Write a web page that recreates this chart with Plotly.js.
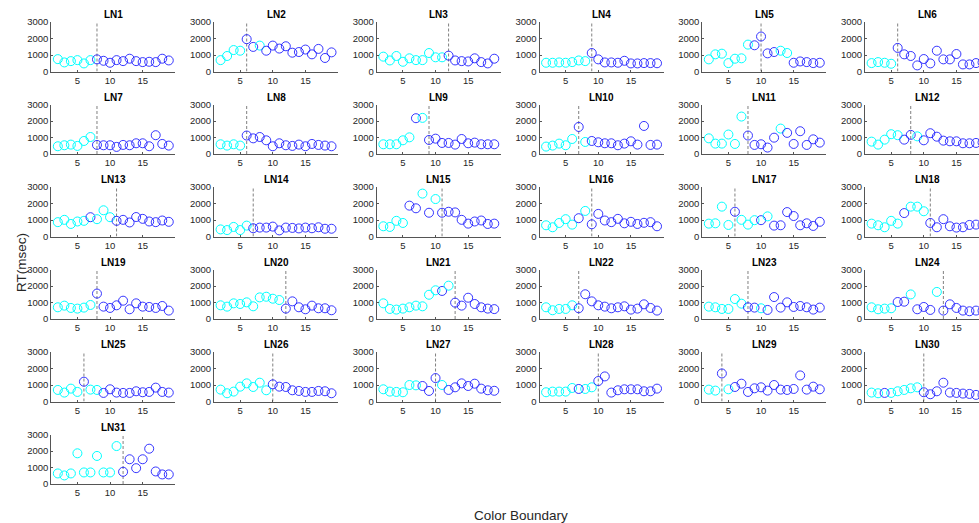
<!DOCTYPE html>
<html><head><meta charset="utf-8">
<script src="https://cdn.plot.ly/plotly-3.0.1.min.js"></script>
<style>html,body{margin:0;padding:0;overflow:hidden;background:#fff;}</style>
</head><body><div id="chart"></div>
<script>
// ---- data ----
const xPos = [2,3,4,5,6,7,8,9,10,11,12,13,14,15,16,17,18,19];
const panelNames = ["LN1","LN2","LN3","LN4","LN5","LN6","LN7","LN8","LN9","LN10","LN11","LN12","LN13","LN14","LN15","LN16","LN17","LN18","LN19","LN20","LN21","LN22","LN23","LN24","LN25","LN26","LN27","LN28","LN29","LN30","LN31"];
const boundaries = [8,6,12,9,10,6,8,6,9,7,8,8,11,7,11,9,6,11,8,12,13,7,8,13,6,10,10,10,4,10,12];
const xTicks = [5,10,15];
const yTicks = [0,1000,2000,3000];

const LN1 = [750,550,630,690,490,690,735,650,530,690,630,775,630,570,590,570,775,670];
const LN2 = [690,940,1300,1260,1960,1490,1570,1260,1570,1390,1530,1140,1180,1330,1040,1370,820,1160];
const LN3 = [900,670,940,590,800,690,690,1120,860,860,960,670,630,610,800,570,490,775];
const LN4 = [530,530,550,530,570,670,630,1120,735,550,550,530,650,490,490,510,510,500];
const LN5 = [735,1040,1080,510,775,800,1630,1590,2120,1100,1180,1260,1120,530,610,570,510,530];
const LN6 = [510,570,530,470,1430,1040,940,370,755,490,1260,735,735,1060,430,430,510,550];
const LN7 = [470,530,570,490,790,1030,550,530,530,430,550,530,650,650,470,1140,610,510];
const LN8 = [590,510,590,510,1120,950,1030,830,470,650,530,490,570,470,610,550,510,470];
const LN9 = [590,590,590,830,1010,2170,2190,850,930,670,670,570,910,650,690,590,590,590];
const LN10 = [450,510,630,530,910,1640,730,790,710,650,650,530,630,770,570,1700,550,570];
const LN11 = [950,630,630,1180,610,2270,1120,550,590,390,990,1540,1280,610,1380,550,890,690];
const LN12 = [750,570,870,1200,1140,870,1160,1070,830,1260,1050,810,770,770,650,650,670,700];
const LN13 = [870,1010,760,910,950,1170,1050,1590,1170,950,1010,850,1180,1070,910,870,970,890];
const LN14 = [430,390,580,390,660,500,540,540,600,370,540,520,490,540,500,560,470,470];
const LN15 = [620,580,950,820,1870,1710,2600,1440,2270,1440,1500,1460,1010,780,910,970,760,780];
const LN16 = [680,560,820,1050,720,1110,1550,740,1370,970,870,1070,800,890,760,830,870,620];
const LN17 = [780,800,1810,700,1500,1010,720,990,990,1220,660,680,1480,1240,680,800,640,890];
const LN18 = [780,680,560,950,780,1420,1810,1810,1530,820,560,1050,620,540,560,700,720,700];
const LN19 = [710,810,670,630,690,850,1540,750,670,830,1110,590,950,750,730,670,790,510];
const LN20 = [830,750,950,910,1010,770,1310,1350,1230,1150,630,1070,710,590,810,650,650,530];
const LN21 = [950,610,570,630,710,810,770,1470,1740,1700,2020,990,810,1290,910,710,630,600];
const LN22 = [710,530,610,610,830,650,1500,1070,830,750,650,710,770,570,630,890,670,510];
const LN23 = [750,710,610,610,1210,930,710,690,650,550,1330,690,1010,730,790,710,570,690];
const LN24 = [710,590,630,650,1030,1050,1490,590,730,550,1640,510,890,670,510,470,510,500];
const LN25 = [700,540,780,580,1200,720,700,520,740,540,520,520,620,560,580,840,580,540];
const LN26 = [720,500,600,900,1100,880,1140,680,1040,900,880,680,640,580,580,640,620,500];
const LN27 = [740,600,580,560,1000,980,940,640,1420,1000,700,860,1100,940,1080,780,680,650];
const LN28 = [560,600,600,600,820,760,760,860,1240,1520,540,680,740,740,740,620,620,780];
const LN29 = [720,660,1700,740,880,1080,580,800,860,660,1000,720,700,760,1580,720,900,740];
const LN30 = [540,500,520,520,620,700,800,860,560,440,620,1140,540,520,480,460,400,400];
const LN31 = [640,520,640,1860,700,700,1700,700,700,2300,740,1500,960,1500,2140,760,580,580];

// point colour groups: c = cyan, b = blue
const LN1c = "ccccccbbbbbbbbbbbb";
const LN2c = "ccccbbcbbbbbbbbbbb";
const LN3c = "ccccccccccbbbbbbbb";
const LN4c = "cccccccbbbbbbbbbbb";
const LN5c = "cccccccbbbbccbbbbb";
const LN6c = "ccccbbbbbbbbbbbbbb";
const LN7c = "ccccccbbbbbbbbbbbb";
const LN8c = "ccccbbbbbbbbbbbbbb";
const LN9c = "cccccbcbbbbbbbbbbb";
const LN10c = "cccccbcbbbbbbbbbbb";
const LN11c = "ccccccbbbbbcbbbbbb";
const LN12c = "cccccbbcbbbbbbbbbb";
const LN13c = "cccccbcccbbbbbbbbb";
const LN14c = "cccccbbbbbbbbbbbbb";
const LN15c = "ccccbbcbcbbbbbbbbb";
const LN16c = "cccccbcbbbbbbbbbbb";
const LN17c = "ccccbcccbcbbbbbbbb";
const LN18c = "cccccbcccbbbbbbbbb";
const LN19c = "ccccccbbbbbbbbbbbb";
const LN20c = "ccccccccccbbbbbbbb";
const LN21c = "cccccccccbcbbbbbbb";
const LN22c = "cccccbbbbbbbbbbbbb";
const LN23c = "ccccccbbcbbbbbbbbb";
const LN24c = "ccccbbcbbbcbbbbbbb";
const LN25c = "ccccbccbbbbbbbbbbb";
const LN26c = "ccccccccbbbbbbbbbb";
const LN27c = "ccccccbbbcbbbbbbbb";
const LN28c = "cccccbccbbbbbbbbbb";
const LN29c = "ccbcbbbbbbbbbbbbbb";
const LN30c = "ccbcccccbbbbbbbbbb";
const LN31c = "ccccccccccbbbbbbbb";

const series = [LN1,LN2,LN3,LN4,LN5,LN6,LN7,LN8,LN9,LN10,LN11,LN12,LN13,LN14,LN15,LN16,LN17,LN18,LN19,LN20,LN21,LN22,LN23,LN24,LN25,LN26,LN27,LN28,LN29,LN30,LN31];
const colorCodes = [LN1c,LN2c,LN3c,LN4c,LN5c,LN6c,LN7c,LN8c,LN9c,LN10c,LN11c,LN12c,LN13c,LN14c,LN15c,LN16c,LN17c,LN18c,LN19c,LN20c,LN21c,LN22c,LN23c,LN24c,LN25c,LN26c,LN27c,LN28c,LN29c,LN30c,LN31c];

// ---- layout geometry (pixels) ----
const W = 1040, H = 523;
const colLeft0 = 51.3, colStep = 162.75, axW = 124;
const rowBottom0 = 71.5, rowStep = 82.5, axH = 49.5;
const CYAN = '#00ffff', BLUE = 'rgba(20,20,255,0.85)';
const axisColor = '#555555', textColor = '#262626';
const FONT = 'Liberation Sans, Arial, Helvetica, sans-serif';

const traces = [];
const layout = {
  width: W, height: H,
  margin: {l:0, r:0, t:0, b:0},
  paper_bgcolor: '#fff', plot_bgcolor: 'rgba(0,0,0,0)',
  showlegend: false,
  font: {family: FONT, size: 9, color: textColor},
  annotations: []
};

series.forEach((vals, i) => {
  const col = i % 6, row = Math.floor(i / 6);
  const left = colLeft0 + col * colStep;
  const bottom = rowBottom0 + row * rowStep;
  const top = bottom - axH;
  const n = i + 1;
  const xa = n === 1 ? 'x' : 'x' + n;
  const ya = n === 1 ? 'y' : 'y' + n;
  const xKey = n === 1 ? 'xaxis' : 'xaxis' + n;
  const yKey = n === 1 ? 'yaxis' : 'yaxis' + n;
  const b = boundaries[i];

  traces.push({
    type: 'scatter', mode: 'lines', x: [b, b], y: [0, 3000],
    xaxis: xa, yaxis: ya, hoverinfo: 'skip',
    line: {color: '#808080', width: 1, dash: '3px,2px'}
  });
  const cols = colorCodes[i].split('').map(c => c === 'c' ? CYAN : BLUE);
  traces.push({
    type: 'scatter', mode: 'markers', x: xPos, y: vals,
    xaxis: xa, yaxis: ya, cliponaxis: false,
    marker: {symbol: 'circle-open', size: 9, color: cols, line: {width: 1}}
  });

  layout[xKey] = {
    domain: [left / W, (left + axW) / W], anchor: ya,
    range: [1, 20], tickvals: xTicks, ticktext: xTicks.map(String),
    showline: true, linecolor: axisColor, linewidth: 1,
    ticks: 'inside', ticklen: 2, tickcolor: axisColor,
    showgrid: false, zeroline: false, fixedrange: true,
    tickfont: {family: FONT, size: 9.5, color: textColor}
  };
  layout[yKey] = {
    domain: [1 - bottom / H, 1 - top / H], anchor: xa,
    range: [0, 3000], tickvals: yTicks, ticktext: yTicks.map(String),
    showline: true, linecolor: axisColor, linewidth: 1,
    ticks: 'inside', ticklen: 2, tickcolor: axisColor,
    showgrid: false, zeroline: false, fixedrange: true,
    tickfont: {family: FONT, size: 9.5, color: textColor}
  };
  layout.annotations.push({
    text: '<b>' + panelNames[i] + '</b>', xref: 'paper', yref: 'paper',
    x: (left + axW / 2) / W, y: 1 - (top - 7.5) / H,
    xanchor: 'center', yanchor: 'middle', showarrow: false,
    font: {family: FONT, size: 10, color: '#000'}
  });
});

layout.annotations.push({
  text: 'RT(msec)', xref: 'paper', yref: 'paper',
  x: 21 / W, y: 1 - 263 / H, textangle: -90,
  xanchor: 'center', yanchor: 'middle', showarrow: false,
  font: {family: FONT, size: 13.5, color: textColor}
});
layout.annotations.push({
  text: 'Color Boundary', xref: 'paper', yref: 'paper',
  x: 521 / W, y: 1 - 515 / H,
  xanchor: 'center', yanchor: 'middle', showarrow: false,
  font: {family: FONT, size: 13.5, color: textColor}
});

Plotly.newPlot('chart', traces, layout, {displayModeBar: false, staticPlot: true});
</script>
</body></html>
